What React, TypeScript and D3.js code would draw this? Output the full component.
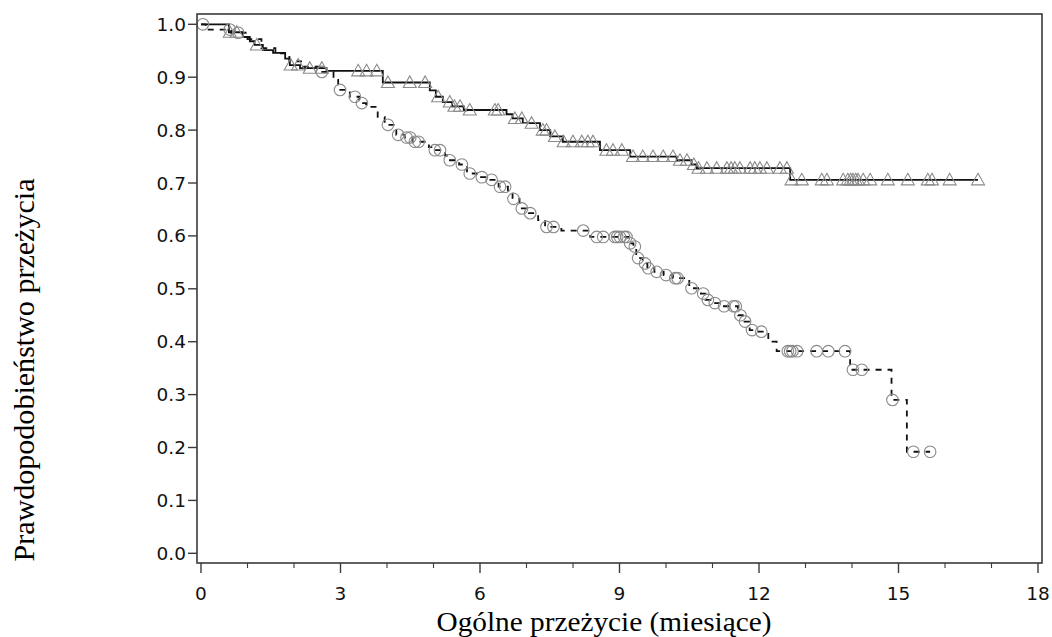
import React from "react";
import * as d3 from "d3";

// ---- Data ----
// Solid curve (triangles): step times and survival after each step
const solidTimes = [0, 0.6, 0.9, 1.05, 1.15, 1.33, 1.55, 1.81, 1.91, 2.13, 2.7, 3.91, 4.92, 5.05, 5.2, 5.4, 5.65, 6.57, 6.7, 6.92, 7.29, 7.51, 7.78, 8.58, 9.23, 10.23, 10.55, 10.66, 12.67];
const solidSurv = [1.0, 0.985, 0.976, 0.968, 0.961, 0.951, 0.946, 0.935, 0.923, 0.917, 0.912, 0.89, 0.875, 0.863, 0.853, 0.845, 0.838, 0.83, 0.822, 0.813, 0.8, 0.788, 0.778, 0.762, 0.75, 0.743, 0.735, 0.728, 0.706];
const solidEnd = 16.71;
const solidCensor = [0.62, 0.77, 1.2, 1.93, 2.09, 2.34, 2.6, 3.38, 3.56, 3.78, 4.02, 4.49, 4.82, 5.1, 5.35, 5.45, 5.57, 5.78, 6.32, 6.39, 6.75, 6.9, 7.11, 7.35, 7.43, 7.61, 7.8, 8.0, 8.19, 8.32, 8.43, 8.72, 8.86, 9.05, 9.29, 9.5, 9.72, 9.94, 10.15, 10.3, 10.45, 10.6, 10.7, 10.88, 11.09, 11.31, 11.4, 11.48, 11.59, 11.81, 11.91, 12.02, 12.17, 12.45, 12.6, 12.7, 12.92, 13.35, 13.46, 13.81, 13.91, 13.97, 14.02, 14.08, 14.13, 14.24, 14.39, 14.77, 15.2, 15.63, 15.72, 16.1, 16.71];

// Dashed curve (circles)
const dashTimes = [0, 0.1, 0.65, 1.0, 1.3, 1.6, 1.9, 2.2, 2.55, 2.85, 2.95, 3.2, 3.4, 3.55, 3.8, 3.95, 4.2, 4.38, 4.55, 4.9, 5.0, 5.25, 5.32, 5.55, 5.72, 6.0, 6.2, 6.4, 6.6, 6.7, 6.85, 7.05, 7.25, 7.4, 7.75, 8.37, 9.2, 9.3, 9.36, 9.5, 9.6, 9.75, 9.95, 10.15, 10.5, 10.75, 10.85, 11.0, 11.2, 11.55, 11.65, 11.8, 11.95, 12.2, 12.38, 13.96, 14.85, 15.18];
const dashSurv = [1.0, 0.99, 0.984, 0.972, 0.955, 0.945, 0.93, 0.92, 0.91, 0.895, 0.876, 0.863, 0.851, 0.844, 0.825, 0.81, 0.791, 0.786, 0.778, 0.768, 0.762, 0.752, 0.743, 0.735, 0.718, 0.711, 0.706, 0.693, 0.68, 0.67, 0.652, 0.643, 0.63, 0.617, 0.61, 0.598, 0.586, 0.58, 0.558, 0.548, 0.539, 0.532, 0.526, 0.52, 0.501, 0.491, 0.479, 0.473, 0.467, 0.45, 0.438, 0.422, 0.419, 0.4, 0.382, 0.347, 0.29, 0.192];
const dashEnd = 15.68;
const dashCensor = [0.04, 0.62, 0.8, 2.6, 2.99, 3.31, 3.46, 4.02, 4.24, 4.42, 4.5, 4.6, 4.68, 5.03, 5.14, 5.35, 5.61, 5.78, 6.04, 6.25, 6.43, 6.54, 6.72, 6.9, 7.08, 7.43, 7.58, 8.22, 8.51, 8.65, 8.9, 8.95, 9.01, 9.1, 9.15, 9.23, 9.33, 9.4, 9.55, 9.62, 9.8, 10.0, 10.2, 10.25, 10.55, 10.8, 10.9, 11.05, 11.25, 11.45, 11.5, 11.6, 11.7, 11.85, 12.05, 12.62, 12.67, 12.72, 12.82, 13.24, 13.49, 13.85, 14.02, 14.21, 14.87, 15.32, 15.68];

const xTicks = [0, 3, 6, 9, 12, 15, 18];
const xMinorTicks = [1, 2, 4, 5, 7, 8, 10, 11, 13, 14, 16, 17];
const yTicks = [0, 0.1, 0.2, 0.3, 0.4, 0.5, 0.6, 0.7, 0.8, 0.9, 1.0];

const xTitle = "Ogólne przeżycie (miesiące)";
const yTitle = "Prawdopodobieństwo przeżycia";

// ---- Layout ----
const W = 1052;
const H = 637;
const frame = { left: 197, right: 1042, top: 14, bottom: 563 };

const x = d3.scaleLinear().domain([0, 18]).range([201, 1038]);
const y = d3.scaleLinear().domain([0, 1]).range([553.3, 24.3]);

function stepPoints(times: number[], surv: number[], end: number): [number, number][] {
  const pts: [number, number][] = times.map((t, i) => [t, surv[i]]);
  pts.push([end, surv[surv.length - 1]]);
  return pts;
}

function survAt(times: number[], surv: number[], t: number): number {
  const i = d3.bisectRight(times, t) - 1;
  return surv[Math.max(0, i)];
}

const line = d3
  .line<[number, number]>()
  .x((d) => x(d[0]))
  .y((d) => y(d[1]))
  .curve(d3.curveStepAfter);

const tickFont = "'DejaVu Sans', Verdana, sans-serif";
const titleFont = "'Liberation Serif', 'Times New Roman', serif";

const triPath = "M0,-6.5L6.5,5L-6.5,5Z";

export default function App() {
  const solidPts = stepPoints(solidTimes, solidSurv, solidEnd);
  const dashPts = stepPoints(dashTimes, dashSurv, dashEnd);
  const markerColor = "#8a8a8a";
  const axisColor = "#3a3a3a";

  return (
    <svg
      width={W}
      height={H}
      style={{ position: "absolute", left: 0, top: 0, background: "#fff" }}
      xmlns="http://www.w3.org/2000/svg"
    >
      <rect x={0} y={0} width={W} height={H} fill="#fff" />

      {/* curves */}
      <path d={line(solidPts) || ""} fill="none" stroke="#111" strokeWidth={1.8} />
      <path d={line(dashPts) || ""} fill="none" stroke="#111" strokeWidth={1.8} strokeDasharray="6,6" />

      {/* censor markers */}
      {solidCensor.map((t, i) => (
        <path
          key={"tri" + i}
          d={triPath}
          transform={`translate(${x(t)},${y(survAt(solidTimes, solidSurv, t))})`}
          fill="none"
          stroke={markerColor}
          strokeWidth={1.1}
        />
      ))}
      {dashCensor.map((t, i) => (
        <circle
          key={"cir" + i}
          cx={x(t)}
          cy={y(survAt(dashTimes, dashSurv, t))}
          r={5.8}
          fill="none"
          stroke={markerColor}
          strokeWidth={1.1}
        />
      ))}

      {/* frame */}
      <rect
        x={frame.left}
        y={frame.top}
        width={frame.right - frame.left}
        height={frame.bottom - frame.top}
        fill="none"
        stroke={axisColor}
        strokeWidth={1.6}
      />

      {/* y axis ticks */}
      {yTicks.map((v) => (
        <g key={"y" + v}>
          <line x1={frame.left - 9} x2={frame.left} y1={y(v)} y2={y(v)} stroke={axisColor} strokeWidth={1.4} />
          <text
            x={frame.left - 11}
            y={y(v)}
            textAnchor="end"
            dominantBaseline="central"
            fontFamily={tickFont}
            fontSize={18.5}
            fill="#111"
          >
            {v.toFixed(1)}
          </text>
        </g>
      ))}

      {/* x axis ticks */}
      {xTicks.map((v) => (
        <g key={"x" + v}>
          <line x1={x(v)} x2={x(v)} y1={frame.bottom} y2={frame.bottom + 10} stroke={axisColor} strokeWidth={1.4} />
          <text
            x={x(v)}
            y={600}
            textAnchor="middle"
            fontFamily={tickFont}
            fontSize={18.5}
            fill="#111"
          >
            {v}
          </text>
        </g>
      ))}
      {xMinorTicks.map((v) => (
        <line key={"xm" + v} x1={x(v)} x2={x(v)} y1={frame.bottom} y2={frame.bottom + 5} stroke={axisColor} strokeWidth={1.1} />
      ))}

      {/* titles */}
      <text
        x={604}
        y={630.5}
        textAnchor="middle"
        fontFamily={titleFont}
        fontSize={27}
        fill="#000"
        textLength={335}
        lengthAdjust="spacingAndGlyphs"
      >
        {xTitle}
      </text>
      <text
        transform="translate(34,370) rotate(-90)"
        x={0}
        y={0}
        textAnchor="middle"
        fontFamily={titleFont}
        fontSize={30}
        fill="#000"
        textLength={383}
        lengthAdjust="spacingAndGlyphs"
      >
        {yTitle}
      </text>
    </svg>
  );
}
